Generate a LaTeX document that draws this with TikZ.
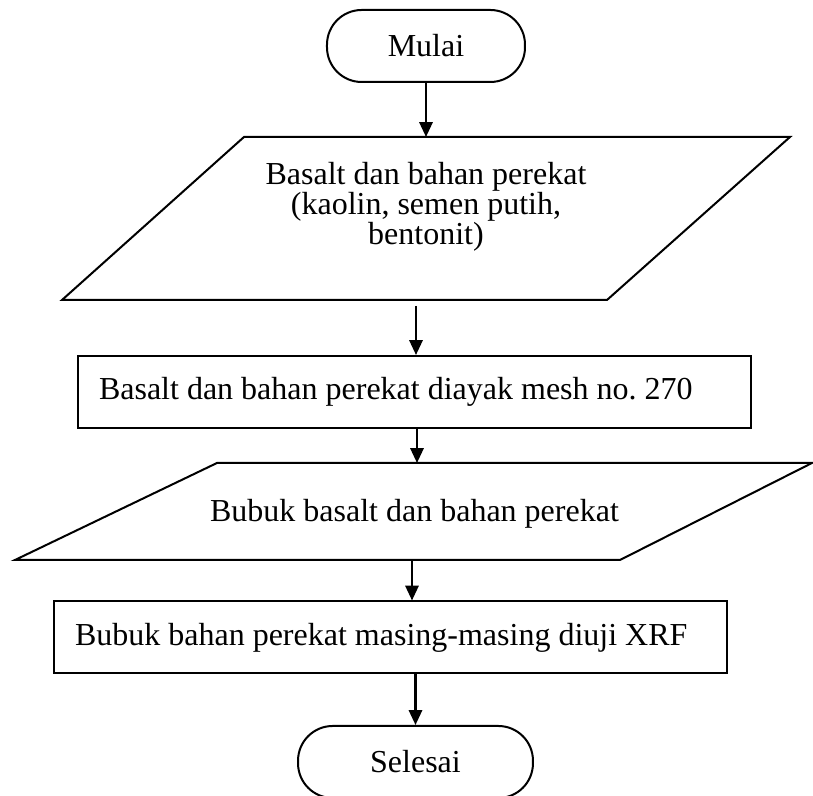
\documentclass[tikz,border=0pt]{standalone}
\usepackage{fontspec}
\setmainfont{Liberation Serif}
\usetikzlibrary{
  arrows.meta % Triangle arrow tips
}
\tikzset{
  terminal/.style={
    draw,
    line width=0.75pt,
    rounded corners=13pt,
    minimum height=27pt,
    inner sep=0pt
  },
  process/.style={
    draw,
    rectangle,
    line width=0.75pt,
    minimum height=27pt,
    text width=236.6pt,
    inner xsep=7.9pt,
    align=flush left
  },
  io line/.style={
    line width=0.75pt,
    line join=miter
  },
  io text/.style={
    align=center,
    inner sep=0pt
  },
  flow/.style={
    -{Triangle[length=5.6pt, width=5pt]},
    line width=0.85pt
  }
}

\begin{document}
\begin{tikzpicture}[x=0.375pt, y=-0.375pt, font=\fontsize{12}{11.25}\selectfont]
    \useasboundingbox (0,0) rectangle (813,796);

    % --- 1. Mulai ---
    \node[terminal, minimum width=74.25pt] (start) at (426,46) {Mulai};

    % --- 2. Bahan masukan ---
    \draw[io line] (244,137) -- (790,137) -- (607,300) -- (62,300) -- cycle;
    \node[io text] (bahan) at (426,207) {Basalt dan bahan perekat\\(kaolin, semen putih,\\bentonit)};
    \coordinate (bahan top) at (426,137);
    \coordinate (bahan bot) at (416,300);

    % --- 3. Pengayakan ---
    \node[process] (ayak) at (414.5,392) {Basalt dan bahan perekat diayak mesh no.\ 270};

    % --- 4. Bubuk ---
    \draw[io line] (217,463) -- (812,463) -- (620,560) -- (15,560) -- cycle;
    \node[io text] (bubuk) at (414.5,514) {Bubuk basalt dan bahan perekat};
    \coordinate (bubuk top) at (417,463);
    \coordinate (bubuk bot) at (412,560);

    % --- 5. Uji XRF ---
    \node[process] (xrf) at (390.5,637.5) {Bubuk bahan perekat masing-masing diuji XRF};

    % --- 6. Selesai ---
    \node[terminal, minimum width=88.1pt] (stop) at (415.5,762) {Selesai};

    % --- alur ---
    \draw[flow] (start.south) -- (bahan top);
    \draw[flow, shorten <=2.25pt] (bahan bot) -- (ayak.north -| bahan bot);
    \draw[flow] (ayak.south -| bubuk top) -- (bubuk top);
    \draw[flow] (bubuk bot) -- (xrf.north -| bubuk bot);
    \draw[flow] (xrf.south -| stop.north) -- (stop.north);
\end{tikzpicture}
\end{document}
